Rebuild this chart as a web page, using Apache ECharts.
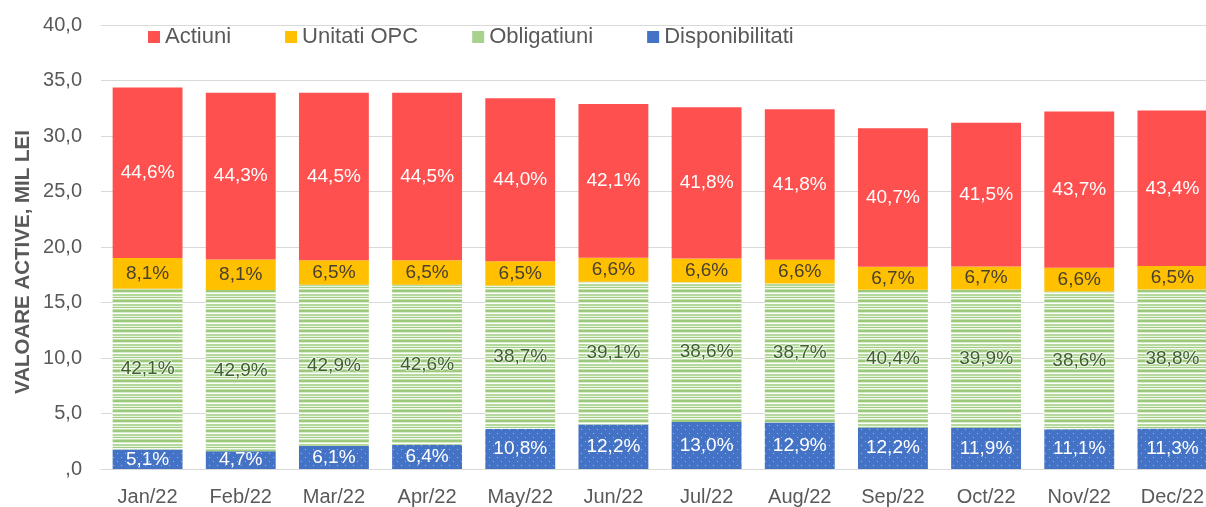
<!DOCTYPE html>
<html>
<head>
<meta charset="utf-8">
<script src="https://cdn.jsdelivr.net/npm/echarts@6/dist/echarts.min.js"></script>
<style>
html,body{margin:0;padding:0;background:#fff;overflow:hidden;width:1206px;height:507px;}
#chart{width:1232px;height:507px;}
</style>
</head>
<body>
<div id="chart"></div>
<script>
// ---- data (values in mil. lei; labels = share of total) ----
const categories = ['Jan/22','Feb/22','Mar/22','Apr/22','May/22','Jun/22','Jul/22','Aug/22','Sep/22','Oct/22','Nov/22','Dec/22'];
const disponibilitati = [1.75, 1.59, 2.07, 2.17, 3.61, 4.01, 4.24, 4.18, 3.75, 3.71, 3.57, 3.65];
const obligatiuni     = [14.48, 14.54, 14.54, 14.44, 12.93, 12.86, 12.58, 12.54, 12.40, 12.45, 12.43, 12.53];
const unitatiOPC      = [2.79, 2.75, 2.20, 2.20, 2.17, 2.17, 2.15, 2.14, 2.06, 2.09, 2.13, 2.10];
const actiuni         = [15.34, 15.02, 15.09, 15.09, 14.70, 13.85, 13.63, 13.54, 12.49, 12.95, 14.07, 14.02];
const pctDisponibilitati = ['5,1%','4,7%','6,1%','6,4%','10,8%','12,2%','13,0%','12,9%','12,2%','11,9%','11,1%','11,3%'];
const pctObligatiuni     = ['42,1%','42,9%','42,9%','42,6%','38,7%','39,1%','38,6%','38,7%','40,4%','39,9%','38,6%','38,8%'];
const pctUnitatiOPC      = ['8,1%','8,1%','6,5%','6,5%','6,5%','6,6%','6,6%','6,6%','6,7%','6,7%','6,6%','6,5%'];
const pctActiuni         = ['44,6%','44,3%','44,5%','44,5%','44,0%','42,1%','41,8%','41,8%','40,7%','41,5%','43,7%','43,4%'];
const yTickLabels = [',0','5,0','10,0','15,0','20,0','25,0','30,0','35,0','40,0'];
const seriesNames = ['Actiuni','Unitati OPC','Obligatiuni','Disponibilitati'];
const yAxisTitle = 'VALOARE ACTIVE, MIL LEI';

// ---- patterns ----
function greenPattern(){
  const c=document.createElement('canvas'); c.width=4; c.height=10;
  const ctx=c.getContext('2d');
  const rows=['#9CC97C','#9CC97C','#D9ECCB','#FFFFFF','#B5D99C','#B5D99C','#E9F4E1','#A3CD86','#F4FAF0','#C6E2B2'];
  rows.forEach((col,i)=>{ctx.fillStyle=col;ctx.fillRect(0,i,4,1);});
  return c;
}
function bluePattern(){
  const c=document.createElement('canvas'); c.width=8; c.height=8;
  const ctx=c.getContext('2d');
  ctx.fillStyle='#4472C4'; ctx.fillRect(0,0,8,8);
  ctx.fillStyle='#9DB5E3'; ctx.fillRect(1,1,1,1); ctx.fillRect(5,5,1,1);
  return c;
}

const FONT = '"Liberation Sans", Arial, sans-serif';
function lbl(arr,color,extra){
  return Object.assign({
    show:true, position:'inside', fontFamily:FONT, fontSize:19, color:color,
    formatter:p=>arr[p.dataIndex]
  }, extra||{});
}

const chart = echarts.init(document.getElementById('chart'), null, {renderer:'canvas'});
chart.setOption({
  animation:false,
  backgroundColor:'#fff',
  grid:{left:101, right:13, top:25, bottom:38, containLabel:false},
  legend:{
    top:21, left:143, itemWidth:12, itemHeight:12, itemGap:54, icon:'rect',
    textStyle:{fontFamily:FONT, fontSize:22, color:'#595959'},
    data:[
      {name:seriesNames[0], itemStyle:{color:'#FF5050'}},
      {name:seriesNames[1], itemStyle:{color:'#FFC000'}},
      {name:seriesNames[2], itemStyle:{color:'#A9D18E'}},
      {name:seriesNames[3], itemStyle:{color:'#4472C4'}}
    ]
  },
  graphic:[{
    type:'text', x:23, y:262, rotation:Math.PI/2,
    style:{text:yAxisTitle, fontFamily:FONT, fontSize:20.5, fontWeight:'bold', fill:'#595959',
      align:'center', verticalAlign:'middle'}
  }],
  xAxis:{
    type:'category', data:categories,
    axisLine:{show:true, lineStyle:{color:'#D9D9D9'}}, axisTick:{show:false},
    axisLabel:{fontFamily:FONT, fontSize:20, color:'#595959', margin:18}
  },
  yAxis:{
    type:'value', min:0, max:40, interval:5,
    axisLine:{show:false}, axisTick:{show:false},
    splitLine:{lineStyle:{color:'#D9D9D9', width:1}},
    axisLabel:{fontFamily:FONT, fontSize:20, color:'#595959', margin:19,
      formatter:(v)=>yTickLabels[Math.round(v/5)]}
  },
  series:[
    {name:seriesNames[3], type:'bar', stack:'a', data:disponibilitati, barCategoryGap:'25%',
      itemStyle:{color:{image:bluePattern(), repeat:'repeat'}},
      label:lbl(pctDisponibilitati,'#FFFFFF')},
    {name:seriesNames[2], type:'bar', stack:'a', data:obligatiuni,
      itemStyle:{color:{image:greenPattern(), repeat:'repeat'}},
      label:lbl(pctObligatiuni,'#3E5F2E',{textBorderColor:'rgba(255,255,255,0.55)', textBorderWidth:2})},
    {name:seriesNames[1], type:'bar', stack:'a', data:unitatiOPC,
      itemStyle:{color:'#FFC000'},
      label:lbl(pctUnitatiOPC,'#4A4030')},
    {name:seriesNames[0], type:'bar', stack:'a', data:actiuni,
      itemStyle:{color:'#FF5050'},
      label:lbl(pctActiuni,'#FFFFFF')}
  ]
});
</script>
</body>
</html>
